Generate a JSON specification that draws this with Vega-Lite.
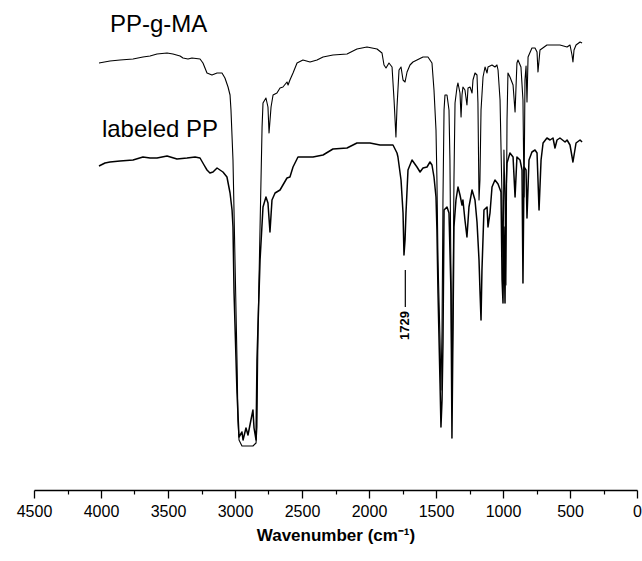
{
  "$schema": "https://vega.github.io/schema/vega-lite/v6.json",
  "width": 603,
  "height": 490,
  "autosize": {"type": "none"},
  "padding": {"left": 34, "right": 5, "top": 0, "bottom": 71},
  "background": "white",
  "config": {"view": {"stroke": null}, "font": "Liberation Sans"},
  "datasets": {
    "spectra": [
      {"series":"PP-g-MA","wn":4015,"t":427},{"series":"PP-g-MA","wn":3933,"t":429},{"series":"PP-g-MA","wn":3858,"t":430},{"series":"PP-g-MA","wn":3761,"t":431},{"series":"PP-g-MA","wn":3687,"t":433},{"series":"PP-g-MA","wn":3634,"t":434},{"series":"PP-g-MA","wn":3582,"t":436},{"series":"PP-g-MA","wn":3507,"t":437},{"series":"PP-g-MA","wn":3463,"t":436},{"series":"PP-g-MA","wn":3410,"t":434},{"series":"PP-g-MA","wn":3388,"t":432},{"series":"PP-g-MA","wn":3351,"t":431},{"series":"PP-g-MA","wn":3321,"t":432},{"series":"PP-g-MA","wn":3261,"t":431},{"series":"PP-g-MA","wn":3239,"t":427},{"series":"PP-g-MA","wn":3209,"t":417},{"series":"PP-g-MA","wn":3172,"t":415},{"series":"PP-g-MA","wn":3134,"t":417},{"series":"PP-g-MA","wn":3097,"t":417},{"series":"PP-g-MA","wn":3075,"t":412},{"series":"PP-g-MA","wn":3052,"t":403},{"series":"PP-g-MA","wn":3037,"t":395},{"series":"PP-g-MA","wn":3030,"t":380},{"series":"PP-g-MA","wn":3015,"t":330},{"series":"PP-g-MA","wn":3000,"t":230},{"series":"PP-g-MA","wn":2985,"t":130},{"series":"PP-g-MA","wn":2978,"t":70},{"series":"PP-g-MA","wn":2970,"t":50},{"series":"PP-g-MA","wn":2948,"t":44},{"series":"PP-g-MA","wn":2903,"t":44},{"series":"PP-g-MA","wn":2866,"t":44},{"series":"PP-g-MA","wn":2843,"t":47},{"series":"PP-g-MA","wn":2836,"t":63},{"series":"PP-g-MA","wn":2828,"t":163},{"series":"PP-g-MA","wn":2813,"t":263},{"series":"PP-g-MA","wn":2798,"t":363},{"series":"PP-g-MA","wn":2791,"t":387},{"series":"PP-g-MA","wn":2769,"t":392},{"series":"PP-g-MA","wn":2754,"t":383},{"series":"PP-g-MA","wn":2746,"t":357},{"series":"PP-g-MA","wn":2731,"t":383},{"series":"PP-g-MA","wn":2716,"t":395},{"series":"PP-g-MA","wn":2687,"t":397},{"series":"PP-g-MA","wn":2664,"t":402},{"series":"PP-g-MA","wn":2642,"t":403},{"series":"PP-g-MA","wn":2612,"t":408},{"series":"PP-g-MA","wn":2604,"t":405},{"series":"PP-g-MA","wn":2590,"t":410},{"series":"PP-g-MA","wn":2567,"t":417},{"series":"PP-g-MA","wn":2537,"t":427},{"series":"PP-g-MA","wn":2493,"t":430},{"series":"PP-g-MA","wn":2440,"t":428},{"series":"PP-g-MA","wn":2388,"t":430},{"series":"PP-g-MA","wn":2343,"t":433},{"series":"PP-g-MA","wn":2269,"t":435},{"series":"PP-g-MA","wn":2164,"t":436},{"series":"PP-g-MA","wn":2090,"t":441},{"series":"PP-g-MA","wn":2015,"t":443},{"series":"PP-g-MA","wn":1940,"t":441},{"series":"PP-g-MA","wn":1903,"t":437},{"series":"PP-g-MA","wn":1888,"t":425},{"series":"PP-g-MA","wn":1873,"t":422},{"series":"PP-g-MA","wn":1851,"t":427},{"series":"PP-g-MA","wn":1828,"t":423},{"series":"PP-g-MA","wn":1813,"t":390},{"series":"PP-g-MA","wn":1799,"t":353},{"series":"PP-g-MA","wn":1791,"t":383},{"series":"PP-g-MA","wn":1776,"t":420},{"series":"PP-g-MA","wn":1761,"t":423},{"series":"PP-g-MA","wn":1746,"t":410},{"series":"PP-g-MA","wn":1731,"t":408},{"series":"PP-g-MA","wn":1716,"t":418},{"series":"PP-g-MA","wn":1694,"t":425},{"series":"PP-g-MA","wn":1672,"t":428},{"series":"PP-g-MA","wn":1642,"t":430},{"series":"PP-g-MA","wn":1597,"t":433},{"series":"PP-g-MA","wn":1560,"t":433},{"series":"PP-g-MA","wn":1530,"t":427},{"series":"PP-g-MA","wn":1515,"t":400},{"series":"PP-g-MA","wn":1500,"t":360},{"series":"PP-g-MA","wn":1493,"t":310},{"series":"PP-g-MA","wn":1485,"t":230},{"series":"PP-g-MA","wn":1470,"t":150},{"series":"PP-g-MA","wn":1463,"t":100},{"series":"PP-g-MA","wn":1455,"t":160},{"series":"PP-g-MA","wn":1448,"t":290},{"series":"PP-g-MA","wn":1440,"t":380},{"series":"PP-g-MA","wn":1433,"t":395},{"series":"PP-g-MA","wn":1418,"t":395},{"series":"PP-g-MA","wn":1403,"t":380},{"series":"PP-g-MA","wn":1396,"t":330},{"series":"PP-g-MA","wn":1388,"t":210},{"series":"PP-g-MA","wn":1381,"t":90},{"series":"PP-g-MA","wn":1373,"t":190},{"series":"PP-g-MA","wn":1366,"t":310},{"series":"PP-g-MA","wn":1358,"t":387},{"series":"PP-g-MA","wn":1343,"t":403},{"series":"PP-g-MA","wn":1336,"t":407},{"series":"PP-g-MA","wn":1321,"t":397},{"series":"PP-g-MA","wn":1313,"t":373},{"series":"PP-g-MA","wn":1306,"t":395},{"series":"PP-g-MA","wn":1299,"t":403},{"series":"PP-g-MA","wn":1284,"t":400},{"series":"PP-g-MA","wn":1269,"t":385},{"series":"PP-g-MA","wn":1261,"t":402},{"series":"PP-g-MA","wn":1246,"t":403},{"series":"PP-g-MA","wn":1231,"t":397},{"series":"PP-g-MA","wn":1224,"t":410},{"series":"PP-g-MA","wn":1209,"t":417},{"series":"PP-g-MA","wn":1194,"t":415},{"series":"PP-g-MA","wn":1187,"t":387},{"series":"PP-g-MA","wn":1179,"t":290},{"series":"PP-g-MA","wn":1172,"t":310},{"series":"PP-g-MA","wn":1164,"t":380},{"series":"PP-g-MA","wn":1149,"t":413},{"series":"PP-g-MA","wn":1134,"t":423},{"series":"PP-g-MA","wn":1119,"t":417},{"series":"PP-g-MA","wn":1112,"t":423},{"series":"PP-g-MA","wn":1082,"t":425},{"series":"PP-g-MA","wn":1060,"t":423},{"series":"PP-g-MA","wn":1045,"t":425},{"series":"PP-g-MA","wn":1037,"t":420},{"series":"PP-g-MA","wn":1022,"t":390},{"series":"PP-g-MA","wn":1007,"t":290},{"series":"PP-g-MA","wn":1000,"t":210},{"series":"PP-g-MA","wn":993,"t":340},{"series":"PP-g-MA","wn":985,"t":290},{"series":"PP-g-MA","wn":978,"t":205},{"series":"PP-g-MA","wn":970,"t":370},{"series":"PP-g-MA","wn":963,"t":417},{"series":"PP-g-MA","wn":948,"t":413},{"series":"PP-g-MA","wn":925,"t":405},{"series":"PP-g-MA","wn":910,"t":378},{"series":"PP-g-MA","wn":896,"t":427},{"series":"PP-g-MA","wn":888,"t":430},{"series":"PP-g-MA","wn":866,"t":423},{"series":"PP-g-MA","wn":851,"t":390},{"series":"PP-g-MA","wn":843,"t":293},{"series":"PP-g-MA","wn":836,"t":410},{"series":"PP-g-MA","wn":828,"t":424},{"series":"PP-g-MA","wn":821,"t":388},{"series":"PP-g-MA","wn":813,"t":433},{"series":"PP-g-MA","wn":784,"t":442},{"series":"PP-g-MA","wn":761,"t":442},{"series":"PP-g-MA","wn":746,"t":438},{"series":"PP-g-MA","wn":739,"t":418},{"series":"PP-g-MA","wn":724,"t":440},{"series":"PP-g-MA","wn":672,"t":445},{"series":"PP-g-MA","wn":627,"t":445},{"series":"PP-g-MA","wn":575,"t":445},{"series":"PP-g-MA","wn":522,"t":443},{"series":"PP-g-MA","wn":500,"t":445},{"series":"PP-g-MA","wn":485,"t":435},{"series":"PP-g-MA","wn":478,"t":428},{"series":"PP-g-MA","wn":470,"t":440},{"series":"PP-g-MA","wn":455,"t":445},{"series":"PP-g-MA","wn":425,"t":448},{"series":"PP-g-MA","wn":410,"t":447},
      {"series":"labeled PP","wn":4015,"t":324},{"series":"labeled PP","wn":3970,"t":327},{"series":"labeled PP","wn":3933,"t":328},{"series":"labeled PP","wn":3858,"t":329},{"series":"labeled PP","wn":3761,"t":330},{"series":"labeled PP","wn":3687,"t":333},{"series":"labeled PP","wn":3634,"t":332},{"series":"labeled PP","wn":3582,"t":332},{"series":"labeled PP","wn":3507,"t":334},{"series":"labeled PP","wn":3433,"t":331},{"series":"labeled PP","wn":3358,"t":332},{"series":"labeled PP","wn":3298,"t":333},{"series":"labeled PP","wn":3261,"t":332},{"series":"labeled PP","wn":3231,"t":325},{"series":"labeled PP","wn":3209,"t":320},{"series":"labeled PP","wn":3187,"t":317},{"series":"labeled PP","wn":3164,"t":318},{"series":"labeled PP","wn":3134,"t":322},{"series":"labeled PP","wn":3112,"t":320},{"series":"labeled PP","wn":3090,"t":318},{"series":"labeled PP","wn":3060,"t":313},{"series":"labeled PP","wn":3037,"t":297},{"series":"labeled PP","wn":3022,"t":280},{"series":"labeled PP","wn":3015,"t":263},{"series":"labeled PP","wn":3007,"t":197},{"series":"labeled PP","wn":2985,"t":97},{"series":"labeled PP","wn":2970,"t":53},{"series":"labeled PP","wn":2948,"t":58},{"series":"labeled PP","wn":2940,"t":50},{"series":"labeled PP","wn":2918,"t":62},{"series":"labeled PP","wn":2903,"t":55},{"series":"labeled PP","wn":2881,"t":70},{"series":"labeled PP","wn":2866,"t":80},{"series":"labeled PP","wn":2858,"t":62},{"series":"labeled PP","wn":2843,"t":50},{"series":"labeled PP","wn":2836,"t":130},{"series":"labeled PP","wn":2813,"t":230},{"series":"labeled PP","wn":2791,"t":283},{"series":"labeled PP","wn":2769,"t":293},{"series":"labeled PP","wn":2754,"t":287},{"series":"labeled PP","wn":2739,"t":258},{"series":"labeled PP","wn":2724,"t":290},{"series":"labeled PP","wn":2701,"t":297},{"series":"labeled PP","wn":2664,"t":300},{"series":"labeled PP","wn":2612,"t":312},{"series":"labeled PP","wn":2590,"t":313},{"series":"labeled PP","wn":2567,"t":323},{"series":"labeled PP","wn":2530,"t":333},{"series":"labeled PP","wn":2463,"t":333},{"series":"labeled PP","wn":2418,"t":333},{"series":"labeled PP","wn":2343,"t":335},{"series":"labeled PP","wn":2269,"t":341},{"series":"labeled PP","wn":2164,"t":342},{"series":"labeled PP","wn":2090,"t":347},{"series":"labeled PP","wn":1993,"t":347},{"series":"labeled PP","wn":1918,"t":345},{"series":"labeled PP","wn":1821,"t":345},{"series":"labeled PP","wn":1791,"t":337},{"series":"labeled PP","wn":1784,"t":333},{"series":"labeled PP","wn":1761,"t":310},{"series":"labeled PP","wn":1746,"t":277},{"series":"labeled PP","wn":1739,"t":235},{"series":"labeled PP","wn":1731,"t":250},{"series":"labeled PP","wn":1724,"t":277},{"series":"labeled PP","wn":1709,"t":320},{"series":"labeled PP","wn":1679,"t":330},{"series":"labeled PP","wn":1642,"t":323},{"series":"labeled PP","wn":1619,"t":318},{"series":"labeled PP","wn":1597,"t":322},{"series":"labeled PP","wn":1567,"t":323},{"series":"labeled PP","wn":1545,"t":328},{"series":"labeled PP","wn":1530,"t":325},{"series":"labeled PP","wn":1515,"t":313},{"series":"labeled PP","wn":1500,"t":293},{"series":"labeled PP","wn":1493,"t":260},{"series":"labeled PP","wn":1485,"t":197},{"series":"labeled PP","wn":1470,"t":107},{"series":"labeled PP","wn":1463,"t":63},{"series":"labeled PP","wn":1455,"t":90},{"series":"labeled PP","wn":1448,"t":147},{"series":"labeled PP","wn":1440,"t":280},{"series":"labeled PP","wn":1418,"t":283},{"series":"labeled PP","wn":1403,"t":277},{"series":"labeled PP","wn":1388,"t":197},{"series":"labeled PP","wn":1381,"t":52},{"series":"labeled PP","wn":1373,"t":163},{"series":"labeled PP","wn":1366,"t":263},{"series":"labeled PP","wn":1351,"t":290},{"series":"labeled PP","wn":1336,"t":303},{"series":"labeled PP","wn":1321,"t":295},{"series":"labeled PP","wn":1306,"t":285},{"series":"labeled PP","wn":1299,"t":290},{"series":"labeled PP","wn":1284,"t":270},{"series":"labeled PP","wn":1269,"t":253},{"series":"labeled PP","wn":1254,"t":283},{"series":"labeled PP","wn":1231,"t":300},{"series":"labeled PP","wn":1209,"t":290},{"series":"labeled PP","wn":1194,"t":268},{"series":"labeled PP","wn":1179,"t":230},{"series":"labeled PP","wn":1172,"t":200},{"series":"labeled PP","wn":1164,"t":170},{"series":"labeled PP","wn":1157,"t":220},{"series":"labeled PP","wn":1142,"t":280},{"series":"labeled PP","wn":1119,"t":283},{"series":"labeled PP","wn":1112,"t":263},{"series":"labeled PP","wn":1097,"t":277},{"series":"labeled PP","wn":1082,"t":303},{"series":"labeled PP","wn":1060,"t":310},{"series":"labeled PP","wn":1037,"t":306},{"series":"labeled PP","wn":1015,"t":298},{"series":"labeled PP","wn":1007,"t":210},{"series":"labeled PP","wn":1000,"t":187},{"series":"labeled PP","wn":993,"t":263},{"series":"labeled PP","wn":985,"t":187},{"series":"labeled PP","wn":978,"t":297},{"series":"labeled PP","wn":970,"t":327},{"series":"labeled PP","wn":948,"t":337},{"series":"labeled PP","wn":925,"t":333},{"series":"labeled PP","wn":910,"t":293},{"series":"labeled PP","wn":896,"t":333},{"series":"labeled PP","wn":873,"t":330},{"series":"labeled PP","wn":858,"t":320},{"series":"labeled PP","wn":851,"t":207},{"series":"labeled PP","wn":843,"t":323},{"series":"labeled PP","wn":828,"t":320},{"series":"labeled PP","wn":821,"t":272},{"series":"labeled PP","wn":806,"t":330},{"series":"labeled PP","wn":784,"t":338},{"series":"labeled PP","wn":761,"t":340},{"series":"labeled PP","wn":746,"t":337},{"series":"labeled PP","wn":731,"t":280},{"series":"labeled PP","wn":716,"t":330},{"series":"labeled PP","wn":701,"t":347},{"series":"labeled PP","wn":672,"t":352},{"series":"labeled PP","wn":649,"t":350},{"series":"labeled PP","wn":627,"t":352},{"series":"labeled PP","wn":612,"t":342},{"series":"labeled PP","wn":597,"t":350},{"series":"labeled PP","wn":575,"t":352},{"series":"labeled PP","wn":537,"t":348},{"series":"labeled PP","wn":522,"t":350},{"series":"labeled PP","wn":500,"t":345},{"series":"labeled PP","wn":478,"t":328},{"series":"labeled PP","wn":455,"t":347},{"series":"labeled PP","wn":425,"t":350},{"series":"labeled PP","wn":410,"t":348}
    ],
    "labels": [
      {"label":"PP-g-MA","wn":3933,"t":458},
      {"label":"labeled PP","wn":3993,"t":353}
    ],
    "marker": [
      {"label":"1729","wn":1729,"t":220,"t2":183,"tt":150}
    ]
  },
  "resolve": {"axis": {"x": "independent"}},
  "layer": [
    {
      "data": {"name": "spectra"},
      "mark": {"type": "line", "color": "black", "strokeJoin": "round"},
      "encoding": {
        "x": {"field": "wn", "type": "quantitative", "scale": {"domain": [0, 4500], "reverse": true, "nice": false, "zero": false},
          "axis": {"orient": "bottom", "values": [0,500,1000,1500,2000,2500,3000,3500,4000,4500], "format": "d", "title": "Wavenumber (cm⁻¹)", "grid": false, "domainColor": "black", "domainWidth": 1.5, "tickColor": "black", "tickWidth": 1.3, "tickSize": 8, "labelFontSize": 16, "labelColor": "black", "labelPadding": 5, "labelFlush": false, "titleFontSize": 17, "titleFontWeight": "bold", "titleColor": "black", "titlePadding": 8}},
        "y": {"field": "t", "type": "quantitative", "scale": {"domain": [0, 490], "nice": false, "zero": false}, "axis": null},
        "detail": {"field": "series"},
        "strokeWidth": {"field": "series", "type": "nominal", "scale": {"domain": ["PP-g-MA", "labeled PP"], "range": [1.1, 1.5]}, "legend": null},
        "order": {"field": "wn", "sort": "descending"}
      }
    },
    {
      "data": {"name": "labels"},
      "mark": {"type": "text", "align": "left", "baseline": "alphabetic", "fontSize": 24, "color": "black"},
      "encoding": {
        "x": {"field": "wn", "type": "quantitative",
          "axis": {"orient": "bottom", "values": [250,750,1250,1750,2250,2750,3250,3750,4250], "labels": false, "domain": false, "grid": false, "title": null, "tickColor": "black", "tickWidth": 1.2, "tickSize": 4}},
        "y": {"field": "t", "type": "quantitative"},
        "text": {"field": "label"}
      }
    },
    {
      "data": {"name": "marker"},
      "mark": {"type": "rule", "color": "black", "strokeWidth": 1.2},
      "encoding": {
        "x": {"field": "wn", "type": "quantitative", "axis": null},
        "y": {"field": "t", "type": "quantitative"},
        "y2": {"field": "t2"}
      }
    },
    {
      "data": {"name": "marker"},
      "mark": {"type": "text", "angle": 270, "align": "left", "baseline": "middle", "fontSize": 13, "fontWeight": "bold", "color": "black"},
      "encoding": {
        "x": {"field": "wn", "type": "quantitative", "axis": null},
        "y": {"field": "tt", "type": "quantitative"},
        "text": {"field": "label"}
      }
    }
  ]
}
